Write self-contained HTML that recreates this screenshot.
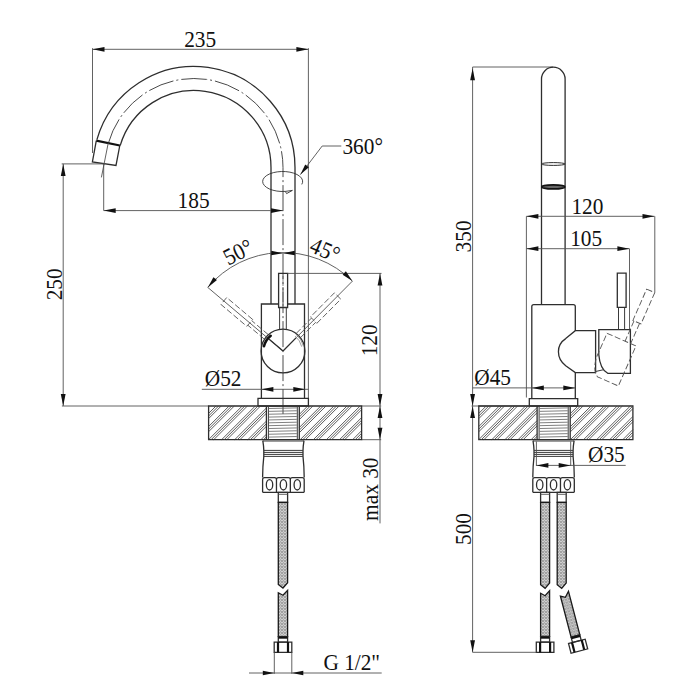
<!DOCTYPE html>
<html><head><meta charset="utf-8"><style>
html,body{margin:0;padding:0;background:#fff;width:700px;height:700px;overflow:hidden}
svg{display:block}
text{font-family:"Liberation Serif",serif;fill:#111}
.o{fill:none;stroke:#2e2e2e;stroke-width:1.3}
.k{fill:none;stroke:#111;stroke-width:2.2}
.k2{fill:none;stroke:#111;stroke-width:2.6;stroke-linecap:round}
.t{fill:none;stroke:#505050;stroke-width:0.9}
.s{fill:none;stroke:#3a3a3a;stroke-width:1}
.g{fill:none;stroke:#888;stroke-width:0.8}
.e{fill:none;stroke:#333;stroke-width:0.9}
.c{fill:none;stroke:#4a4a4a;stroke-width:1;stroke-dasharray:26 3 2 3}
.c2{fill:none;stroke:#555;stroke-width:0.7;stroke-dasharray:10 2 2 2}
.p{fill:none;stroke:#555;stroke-width:0.9;stroke-dasharray:6 2.5}
.h{fill:none;stroke:#404040;stroke-width:0.85}
.th{fill:none;stroke:#606060;stroke-width:0.8}
.br{fill:url(#braid);stroke:#1a1a1a;stroke-width:1.3}
</style></head><body>
<svg width="700" height="700" viewBox="0 0 700 700">
<defs><pattern id="braid" patternUnits="userSpaceOnUse" width="3" height="3">
<rect width="3" height="3" fill="#cfcfcf"/><path d="M0.2 0.2L1.3 1.3M2.8 0.2L1.7 1.3M0.2 3L1.3 1.9M2.8 3L1.7 1.9" stroke="#707070" stroke-width="0.6"/></pattern></defs>
<rect width="700" height="700" fill="#fff"/>
<line x1="92.5" y1="49.3" x2="308.4" y2="49.3" class="t"/>
<polygon points="92.5,49.3 104.5,46.9 104.5,51.7" fill="#111" stroke="none"/>
<polygon points="308.4,49.3 296.4,51.7 296.4,46.9" fill="#111" stroke="none"/>
<line x1="92.5" y1="48.2" x2="92.5" y2="153" class="t"/>
<line x1="308.4" y1="48.2" x2="308.4" y2="398.4" class="t"/>
<text transform="translate(200.2 46.8) scale(0.97 1.065)" font-size="22" text-anchor="middle">235</text>
<path d="M96.91 139.66A101.0 101.0 0 0 1 295 167.5L295 304" class="o"/>
<path d="M120.17 145.63A77.0 77.0 0 0 1 271 167.5L271 304" class="o"/>
<path d="M108.45 142.97A89.0 89.0 0 0 1 283 167.5L283 414" class="c"/>
<polyline points="96.3,140.6 92.4,162 116,165.4 119.8,145.5" class="o"/>
<line x1="96.3" y1="140.6" x2="119.8" y2="145.5" class="k"/>
<line x1="108.3" y1="142.7" x2="101.4" y2="177.4" class="t"/>
<line x1="61.7" y1="163.9" x2="105" y2="163.9" class="t"/>
<line x1="63.2" y1="163.9" x2="63.2" y2="406" class="t"/>
<polygon points="63.2,163.9 65.6,175.9 60.8,175.9" fill="#111" stroke="none"/>
<polygon points="63.2,406 60.8,394 65.6,394" fill="#111" stroke="none"/>
<line x1="61.9" y1="406" x2="208.6" y2="406" class="t"/>
<text transform="translate(61.7 284.3) rotate(-90) scale(0.97 1.065)" font-size="22" text-anchor="middle">250</text>
<line x1="103.7" y1="163.9" x2="103.7" y2="210.6" class="t"/>
<line x1="103.7" y1="210.6" x2="283" y2="210.6" class="t"/>
<polygon points="103.7,210.6 115.7,208.2 115.7,213" fill="#111" stroke="none"/>
<polygon points="283,210.6 271,213 271,208.2" fill="#111" stroke="none"/>
<text transform="translate(193.6 208) scale(0.97 1.065)" font-size="22" text-anchor="middle">185</text>
<line x1="322.2" y1="146" x2="341.3" y2="146" class="t"/>
<line x1="322.2" y1="146" x2="300.4" y2="174.6" class="t"/>
<polygon points="300.4,174.6 305.24,164.46 308.9,167.25" fill="#111" stroke="none"/>
<text transform="translate(342.4 154.2) scale(0.97 1.065)" font-size="22" text-anchor="start">360°</text>
<path d="M301.79 184.42A20 10 0 1 0 285.3 191.4" class="e"/>
<polygon points="285.3,191.4 292.4,190.4 286.6,193.6" fill="#fff" class="e" style="stroke-linejoin:miter"/>
<path d="M261.4 398.4V304H278.6M287.6 304H304.5V398.4" class="o"/>
<polygon points="258,398.4 308.4,398.4 308.4,406 258,406" class="o"/>
<circle cx="283" cy="351" r="21.9" class="o"/>
<polygon points="278.6,273.4 287.6,273.4 287.6,307.5 278.6,307.5" class="o"/>
<line x1="279.6" y1="307.5" x2="279.6" y2="329.4" class="s"/>
<line x1="286.3" y1="307.5" x2="286.3" y2="329.4" class="s"/>
<line x1="283" y1="276" x2="283" y2="306" class="c2"/>
<line x1="287.6" y1="273.4" x2="381.5" y2="273.4" class="t"/>
<path d="M207.77 287.42A98.5 98.5 0 0 1 352.41 281.11" class="t"/>
<polygon points="207.77,287.42 213.43,277.15 216.95,280.12" fill="#111" stroke="none"/>
<polygon points="352.41,281.11 342.63,274.64 345.87,271.37" fill="#111" stroke="none"/>
<polygon points="283,253.3 271.14,255.25 271.27,250.65" fill="#111" stroke="none"/>
<polygon points="283,253.3 294.73,250.65 294.86,255.25" fill="#111" stroke="none"/>
<line x1="283" y1="351" x2="207.77" y2="287.42" class="t"/>
<polygon points="252.68,319.49 226.71,297.54 220.9,304.41 246.87,326.36" class="p"/>
<line x1="268.13" y1="334.51" x2="251.71" y2="320.63" class="p"/>
<line x1="264.26" y1="339.09" x2="247.84" y2="325.21" class="p"/>
<line x1="283" y1="351" x2="352.41" y2="281.11" class="t"/>
<polygon points="316.84,323.3 340.8,299.18 334.42,292.84 310.46,316.96" class="p"/>
<line x1="300.63" y1="337.5" x2="315.78" y2="322.25" class="p"/>
<line x1="296.37" y1="333.28" x2="311.52" y2="318.02" class="p"/>
<line x1="283" y1="351" x2="268.87" y2="339.06" class="o"/>
<line x1="283" y1="351" x2="296.04" y2="337.87" class="o"/>
<path d="M270.67 335.77A19.6 19.6 0 0 0 263.98 346.26" class="k2"/>
<path d="M295.08 336.08A19.2 19.2 0 0 1 301.71 346.68" class="g"/>
<path d="M296.22 334.68A21.0 21.0 0 0 1 303.46 346.28" class="g"/>
<text transform="translate(241.5 259) rotate(-27) scale(0.97 1.065)" font-size="22" text-anchor="middle">50°</text>
<text transform="translate(322.1 257.2) rotate(23) scale(0.97 1.065)" font-size="22" text-anchor="middle">45°</text>
<line x1="380" y1="273.4" x2="380" y2="523.4" class="t"/>
<polygon points="380,273.4 382.4,285.4 377.6,285.4" fill="#111" stroke="none"/>
<polygon points="380,406 377.6,394 382.4,394" fill="#111" stroke="none"/>
<polygon points="380,406 382.4,418 377.6,418" fill="#111" stroke="none"/>
<polygon points="380,439.7 377.6,427.7 382.4,427.7" fill="#111" stroke="none"/>
<line x1="361.6" y1="406" x2="381.2" y2="406" class="t"/>
<line x1="361.6" y1="439.7" x2="381.2" y2="439.7" class="t"/>
<text transform="translate(376.6 340.3) rotate(-90) scale(0.97 1.065)" font-size="22" text-anchor="middle">120</text>
<text transform="translate(377.7 489.2) rotate(-90) scale(0.97 1.065)" font-size="22" text-anchor="middle">max 30</text>
<line x1="201.8" y1="389.3" x2="308.4" y2="389.3" class="t"/>
<polygon points="261.4,389.3 273.4,386.9 273.4,391.7" fill="#111" stroke="none"/>
<polygon points="305.3,389.3 293.3,391.7 293.3,386.9" fill="#111" stroke="none"/>
<text transform="translate(204.8 386.2) scale(0.97 1.065)" font-size="22" text-anchor="start">Ø52</text>
<polygon points="208.6,406 361.6,406 361.6,439.7 208.6,439.7" class="o"/>
<path d="M208.6 413.4L216 406M208.6 416L218.6 406M208.6 418.6L221.2 406M208.6 426.5L229.1 406M208.6 429.1L231.7 406M208.6 431.7L234.3 406M208.6 439.6L242.2 406M211.1 439.7L244.8 406M213.7 439.7L247.4 406M221.6 439.7L255.3 406M224.2 439.7L257.9 406M226.8 439.7L260.5 406M234.7 439.7L266.4 408M237.3 439.7L266.4 410.6M239.9 439.7L266.4 413.2M247.8 439.7L266.4 421.1M250.4 439.7L266.4 423.7M253 439.7L266.4 426.3M260.9 439.7L266.4 434.2M263.5 439.7L266.4 436.8" class="h"/>
<path d="M299.3 406.5L299.8 406M299.3 414.4L307.7 406M299.3 417L310.3 406M299.3 419.6L312.9 406M299.3 427.5L320.8 406M299.3 430.1L323.4 406M299.3 432.7L326 406M300.2 439.7L333.9 406M302.8 439.7L336.5 406M305.4 439.7L339.1 406M313.3 439.7L347 406M315.9 439.7L349.6 406M318.5 439.7L352.2 406M326.4 439.7L360.1 406M329 439.7L361.6 407.1M331.6 439.7L361.6 409.7M339.5 439.7L361.6 417.6M342.1 439.7L361.6 420.2M344.7 439.7L361.6 422.8M352.6 439.7L361.6 430.7M355.2 439.7L361.6 433.3M357.8 439.7L361.6 435.9" class="h"/>
<line x1="266.4" y1="406" x2="266.4" y2="439.7" class="o"/>
<line x1="268.4" y1="406" x2="268.4" y2="439.7" class="s"/>
<line x1="297.3" y1="406" x2="297.3" y2="439.7" class="s"/>
<line x1="299.3" y1="406" x2="299.3" y2="439.7" class="o"/>
<path d="M268.9 408.5L296.8 407.9M268.9 411.36L296.8 410.76M268.9 414.22L296.8 413.62M268.9 417.08L296.8 416.48M268.9 419.94L296.8 419.34M268.9 422.8L296.8 422.2M268.9 425.66L296.8 425.06M268.9 428.52L296.8 427.92M268.9 431.38L296.8 430.78M268.9 434.24L296.8 433.64M268.9 437.1L296.8 436.5" class="th"/>
<path d="M262.8 441H304" class="s"/>
<path d="M262.8 440.6Q263.7 446 263.8 450.4V456.4Q262.7 466 262.6 477.6" class="o"/>
<path d="M304 440.6Q303.1 446 303 450.4V456.4Q304.1 466 304.2 477.6" class="o"/>
<line x1="263.8" y1="450.4" x2="303" y2="450.4" class="s"/>
<line x1="263.8" y1="452.4" x2="303" y2="452.4" class="s"/>
<line x1="263.8" y1="454.4" x2="303" y2="454.4" class="s"/>
<line x1="263.8" y1="456.4" x2="303" y2="456.4" class="s"/>
<path d="M262.6 492.3V479.6Q262.6 477.6 264.6 477.6H274.47Q276.47 477.6 276.47 479.6V492.3M276.47 492.3V479.6Q276.47 477.6 278.47 477.6H288.33Q290.33 477.6 290.33 479.6V492.3M290.33 492.3V479.6Q290.33 477.6 292.33 477.6H302.2Q304.2 477.6 304.2 479.6V492.3" class="o"/>
<line x1="262.6" y1="492.3" x2="304.2" y2="492.3" class="o"/>
<ellipse cx="269.53" cy="484.8" rx="3.2" ry="5.2" class="o"/>
<ellipse cx="283.4" cy="484.8" rx="3.2" ry="5.2" class="o"/>
<ellipse cx="297.27" cy="484.8" rx="3.2" ry="5.2" class="o"/>
<polygon points="278.3,492.3 287.6,492.3 287.6,502.3 278.3,502.3" class="o"/>
<line x1="278.3" y1="494.3" x2="287.6" y2="494.3" class="t"/>
<polygon points="278.3,502.3 287.6,502.3 287.6,582.7 282.95,588 278.3,584.5" class="br"/>
<polygon points="278.3,592.8 282.95,595.3 287.6,590.3 287.6,636.6 278.3,636.6" class="br"/>
<polygon points="278.3,636.6 287.6,636.6 287.6,642.1 278.3,642.1" class="o"/>
<line x1="278.3" y1="637.6" x2="287.6" y2="637.6" class="k"/>
<polygon points="274.2,642.1 291.8,642.1 291.8,652.4 274.2,652.4" class="o"/>
<line x1="278" y1="642.1" x2="278" y2="652.4" class="k"/>
<line x1="288" y1="642.1" x2="288" y2="652.4" class="k"/>
<line x1="274.3" y1="652.4" x2="274.3" y2="673.8" class="t"/>
<line x1="291.8" y1="652.4" x2="291.8" y2="673.8" class="t"/>
<line x1="249" y1="673" x2="381.7" y2="673" class="t"/>
<polygon points="274.3,673 262.8,675.3 262.8,670.7" fill="#111" stroke="none"/>
<polygon points="291.8,673 303.3,670.7 303.3,675.3" fill="#111" stroke="none"/>
<text transform="translate(323.4 670.2) scale(0.97 1.065)" font-size="22" text-anchor="start">G 1/2"</text>
<line x1="472.6" y1="67" x2="553" y2="67" class="t"/>
<line x1="472.6" y1="67" x2="472.6" y2="652.3" class="t"/>
<polygon points="472.6,68.2 475,80.2 470.2,80.2" fill="#111" stroke="none"/>
<polygon points="472.6,406 470.2,394 475,394" fill="#111" stroke="none"/>
<polygon points="472.6,406 475,418 470.2,418" fill="#111" stroke="none"/>
<polygon points="472.6,652.3 470.2,640.3 475,640.3" fill="#111" stroke="none"/>
<text transform="translate(470.7 236.4) rotate(-90) scale(0.97 1.065)" font-size="22" text-anchor="middle">350</text>
<text transform="translate(470.7 529) rotate(-90) scale(0.97 1.065)" font-size="22" text-anchor="middle">500</text>
<path d="M541.5 304.6V79A11.8 11.8 0 0 1 565.1 79V304.6" class="o"/>
<ellipse cx="553.3" cy="164" rx="11.8" ry="1.4" class="o" style="stroke-width:1"/>
<ellipse cx="553.3" cy="186.9" rx="11.6" ry="2" fill="#666" stroke="#111" stroke-width="1.6"/>
<line x1="526.4" y1="216.3" x2="654.5" y2="216.3" class="t"/>
<polygon points="526.4,216.3 538.4,213.9 538.4,218.7" fill="#111" stroke="none"/>
<polygon points="654.5,216.3 642.5,218.7 642.5,213.9" fill="#111" stroke="none"/>
<line x1="526.4" y1="248.7" x2="629.4" y2="248.7" class="t"/>
<polygon points="526.4,248.7 538.4,246.3 538.4,251.1" fill="#111" stroke="none"/>
<polygon points="629.4,248.7 617.4,251.1 617.4,246.3" fill="#111" stroke="none"/>
<line x1="526.4" y1="216.3" x2="526.4" y2="397.5" class="t"/>
<line x1="654.8" y1="216.3" x2="654.8" y2="292.4" class="t"/>
<line x1="629.5" y1="248.7" x2="629.5" y2="330" class="t"/>
<text transform="translate(587.4 213.5) scale(0.97 1.065)" font-size="22" text-anchor="middle">120</text>
<text transform="translate(586.2 245.5) scale(0.97 1.065)" font-size="22" text-anchor="middle">105</text>
<path d="M531.8 398.9V306.6Q531.8 304.6 533.8 304.6H573.3Q575.3 304.6 575.3 306.6V330.7M575.3 372.6V398.9" class="o"/>
<path d="M575.3 330.7H595.6V372.6H575.3L565.7 365.7C556 358 556 345 565.7 338.6Z" class="o"/>
<path d="M598.8 329.6H630.4V373.3H607.7Q600 369 598.8 354.7Z" class="o"/>
<polygon points="617.3,273.2 626.1,273.2 626.1,307.4 617.3,307.4" class="o"/>
<line x1="618.5" y1="307.4" x2="618.5" y2="329.6" class="s"/>
<line x1="624.6" y1="307.4" x2="624.6" y2="329.6" class="s"/>
<line x1="595.6" y1="371.5" x2="604" y2="369.6" class="s"/>
<g transform="rotate(23.75 594.2 351)">
<path d="M598.8 329.6H630.4V373.3H607.7Q600 369 598.8 354.7Z" class="p"/>
<polygon points="617.3,273.2 626.1,273.2 626.1,307.4 617.3,307.4" class="p"/>
<line x1="618.5" y1="307.4" x2="618.5" y2="329.6" class="p"/>
<line x1="624.6" y1="307.4" x2="624.6" y2="329.6" class="p"/>
</g>
<line x1="472.6" y1="387.9" x2="575.3" y2="387.9" class="t"/>
<polygon points="531.8,387.9 543.8,385.5 543.8,390.3" fill="#111" stroke="none"/>
<polygon points="575.3,387.9 563.3,390.3 563.3,385.5" fill="#111" stroke="none"/>
<text transform="translate(474.3 385.1) scale(0.97 1.065)" font-size="22" text-anchor="start">Ø45</text>
<polygon points="529.3,398.6 577.7,398.6 577.7,406 529.3,406" class="o"/>
<line x1="471.5" y1="406" x2="529.3" y2="406" class="t"/>
<polygon points="478.8,406 632.9,406 632.9,439.7 478.8,439.7" class="o"/>
<path d="M478.8 413.4L486.2 406M478.8 416L488.8 406M478.8 418.6L491.4 406M478.8 426.5L499.3 406M478.8 429.1L501.9 406M478.8 431.7L504.5 406M478.8 439.6L512.4 406M481.3 439.7L515 406M483.9 439.7L517.6 406M491.8 439.7L525.5 406M494.4 439.7L528.1 406M497 439.7L530.7 406M504.9 439.7L537.1 407.5M507.5 439.7L537.1 410.1M510.1 439.7L537.1 412.7M518 439.7L537.1 420.6M520.6 439.7L537.1 423.2M523.2 439.7L537.1 425.8M531.1 439.7L537.1 433.7M533.7 439.7L537.1 436.3M536.3 439.7L537.1 438.9" class="h"/>
<path d="M570.2 413.7L577.9 406M570.2 416.3L580.5 406M570.2 418.9L583.1 406M570.2 426.8L591 406M570.2 429.4L593.6 406M570.2 432L596.2 406M570.4 439.7L604.1 406M573 439.7L606.7 406M575.6 439.7L609.3 406M583.5 439.7L617.2 406M586.1 439.7L619.8 406M588.7 439.7L622.4 406M596.6 439.7L630.3 406M599.2 439.7L632.9 406M601.8 439.7L632.9 408.6M609.7 439.7L632.9 416.5M612.3 439.7L632.9 419.1M614.9 439.7L632.9 421.7M622.8 439.7L632.9 429.6M625.4 439.7L632.9 432.2M628 439.7L632.9 434.8" class="h"/>
<line x1="537.1" y1="406" x2="537.1" y2="439.7" class="o"/>
<line x1="539.1" y1="406" x2="539.1" y2="439.7" class="s"/>
<line x1="568.2" y1="406" x2="568.2" y2="439.7" class="s"/>
<line x1="570.2" y1="406" x2="570.2" y2="439.7" class="o"/>
<path d="M539.6 408.5L567.7 407.9M539.6 411.36L567.7 410.76M539.6 414.22L567.7 413.62M539.6 417.08L567.7 416.48M539.6 419.94L567.7 419.34M539.6 422.8L567.7 422.2M539.6 425.66L567.7 425.06M539.6 428.52L567.7 427.92M539.6 431.38L567.7 430.78M539.6 434.24L567.7 433.64M539.6 437.1L567.7 436.5" class="th"/>
<path d="M533 441H574.1" class="s"/>
<path d="M533 440.6Q533.9 446 534 450.4V456.4Q532.9 466 532.8 477.6" class="o"/>
<path d="M574.1 440.6Q573.2 446 573.1 450.4V456.4Q574.2 466 574.3 477.6" class="o"/>
<line x1="534" y1="450.4" x2="573.1" y2="450.4" class="s"/>
<line x1="534" y1="452.4" x2="573.1" y2="452.4" class="s"/>
<line x1="534" y1="454.4" x2="573.1" y2="454.4" class="s"/>
<line x1="534" y1="456.4" x2="573.1" y2="456.4" class="s"/>
<path d="M532.8 492.3V479.6Q532.8 477.6 534.8 477.6H544.63Q546.63 477.6 546.63 479.6V492.3M546.63 492.3V479.6Q546.63 477.6 548.63 477.6H558.47Q560.47 477.6 560.47 479.6V492.3M560.47 492.3V479.6Q560.47 477.6 562.47 477.6H572.3Q574.3 477.6 574.3 479.6V492.3" class="o"/>
<line x1="532.8" y1="492.3" x2="574.3" y2="492.3" class="o"/>
<ellipse cx="539.72" cy="484.8" rx="3.2" ry="5.2" class="o"/>
<ellipse cx="553.55" cy="484.8" rx="3.2" ry="5.2" class="o"/>
<ellipse cx="567.38" cy="484.8" rx="3.2" ry="5.2" class="o"/>
<line x1="536.4" y1="441.5" x2="536.4" y2="466" class="t"/>
<line x1="570.7" y1="441.5" x2="570.7" y2="466" class="t"/>
<line x1="536.4" y1="465.4" x2="625.7" y2="465.4" class="t"/>
<polygon points="536.4,465.4 548.4,463.1 548.4,467.7" fill="#111" stroke="none"/>
<polygon points="570.7,465.4 558.7,467.7 558.7,463.1" fill="#111" stroke="none"/>
<text transform="translate(588 462) scale(0.97 1.065)" font-size="22" text-anchor="start">Ø35</text>
<polygon points="540.6,492.3 549.6,492.3 549.6,502.3 540.6,502.3" class="o"/>
<line x1="540.6" y1="494.3" x2="549.6" y2="494.3" class="t"/>
<polygon points="540.6,502.3 549.6,502.3 549.6,583 545.1,588.3 540.6,584.8" class="br"/>
<polygon points="540.6,593.3 545.1,595.8 549.6,590.8 549.6,636.4 540.6,636.4" class="br"/>
<polygon points="540.6,636.6 549.6,636.6 549.6,642.1 540.6,642.1" class="o"/>
<line x1="540.6" y1="637.6" x2="549.6" y2="637.6" class="k"/>
<polygon points="536.3,642.1 553.9,642.1 553.9,652.4 536.3,652.4" class="o"/>
<line x1="540.1" y1="642.1" x2="540.1" y2="652.4" class="k"/>
<line x1="550.1" y1="642.1" x2="550.1" y2="652.4" class="k"/>
<line x1="472.6" y1="652.3" x2="536.3" y2="652.3" class="t"/>
<polygon points="557.2,492.3 566.2,492.3 566.2,502.3 557.2,502.3" class="o"/>
<line x1="557.2" y1="494.3" x2="566.2" y2="494.3" class="t"/>
<polygon points="557.2,502.3 566.2,502.3 566.2,583 561.7,588.3 557.2,584.8" class="br"/>
<g transform="rotate(-14.6 564 592)">
<polygon points="559.5,595 564,597.5 568.5,592.5 568.5,637.5 559.5,637.5" class="br"/>
<polygon points="559.5,637.5 568.5,637.5 568.5,643 559.5,643" class="o"/>
<line x1="559.5" y1="638.5" x2="568.5" y2="638.5" class="k"/>
<polygon points="555.4,643 572.6,643 572.6,653 555.4,653" class="o"/>
<line x1="559" y1="643" x2="559" y2="653" class="k"/>
<line x1="569" y1="643" x2="569" y2="653" class="k"/>
</g>
</svg></body></html>
